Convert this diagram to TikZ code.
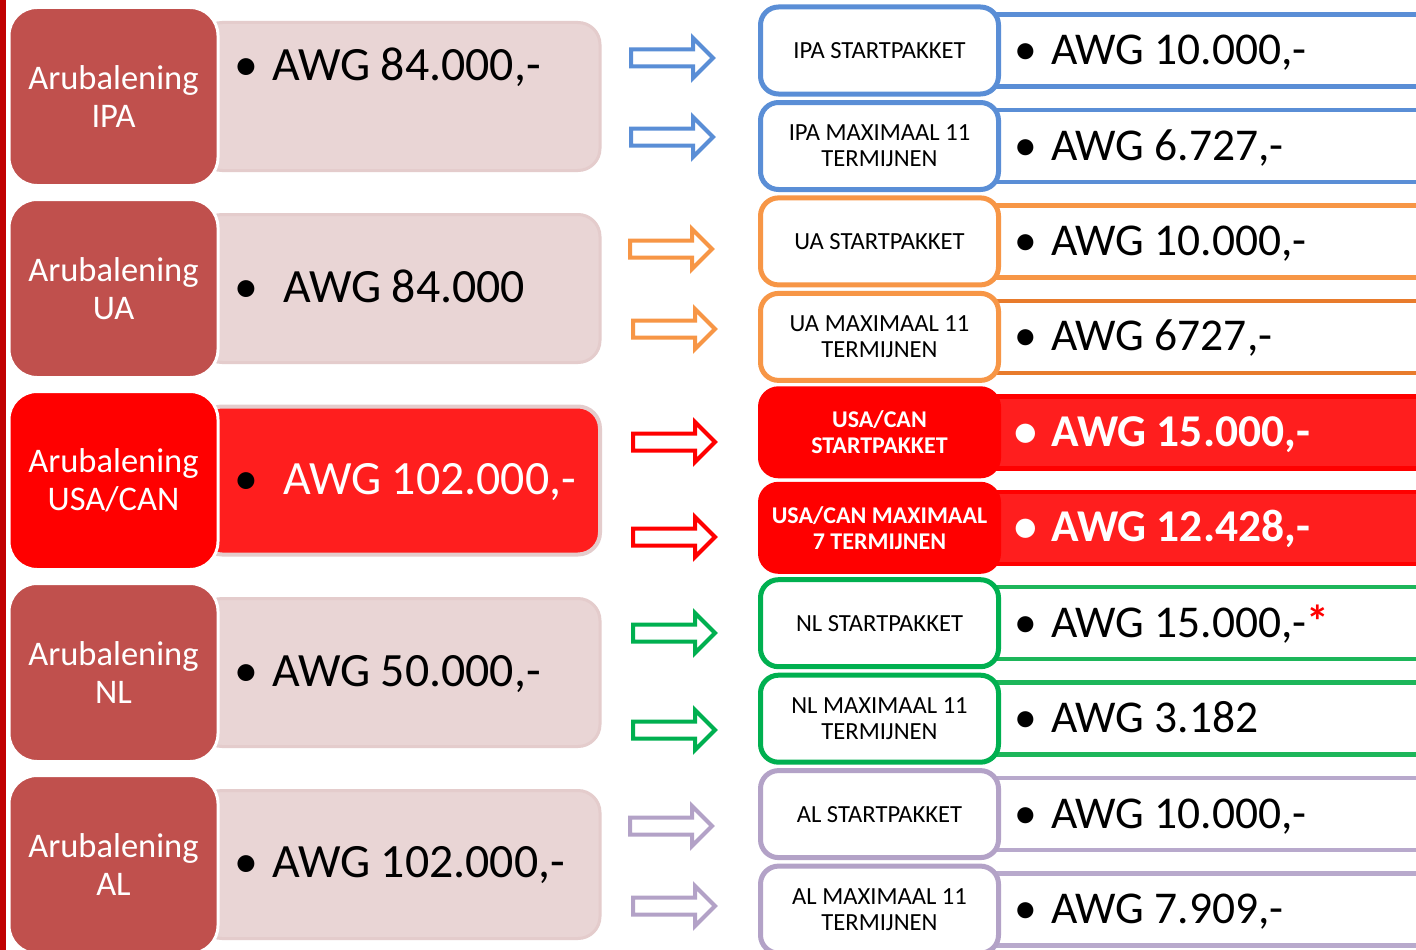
\documentclass[tikz,border=0pt]{standalone}
\usepackage{fontspec}
\setmainfont{Carlito}
\definecolor{barred}{HTML}{C00000}
\definecolor{lrose}{HTML}{C0504D}
\definecolor{mpink}{HTML}{E9D5D5}
\definecolor{mpinkb}{HTML}{E4CCCC}
\definecolor{vred}{HTML}{FF1E1E}
\definecolor{cblue}{HTML}{5A8ED6}
\definecolor{corange}{HTML}{F79646}
\definecolor{corange2}{HTML}{E87B2C}
\definecolor{cred}{HTML}{FF0000}
\definecolor{cgreen}{HTML}{00B050}
\definecolor{cgreen2}{HTML}{1DB65A}
\definecolor{cpurple}{HTML}{B3A2C7}
\definecolor{cpurple2}{HTML}{B8A9CC}
\newcommand\blockarr[3]{%
  \draw[line width=4pt, draw=#1, fill=white, line join=miter]
    (#2+2,#3-8.5) -- (#2+64,#3-8.5) -- (#2+64,#3-20) -- (#2+84,#3)
    -- (#2+64,#3+20) -- (#2+64,#3+8.5) -- (#2+2,#3+8.5) -- cycle;}
\tikzset{
  leftbox/.style={rounded corners=28pt, fill=lrose, draw=white, line width=3pt,
    minimum width=209pt, minimum height=178pt, align=center, text=white,
    inner sep=0pt, font=\fontsize{34.5}{38}\selectfont},
  midbox/.style={rounded corners=22pt, fill=mpink, draw=mpinkb, line width=3pt,
    minimum width=400pt, minimum height=148pt, inner sep=0pt},
  bigtxt/.style={font=\fontsize{47.8}{50}\selectfont, inner sep=0pt},
  lbox/.style={rounded corners=18pt, fill=white, line width=5pt,
    minimum width=238pt, minimum height=87pt, align=center, inner sep=0pt,
    font=\fontsize{24.6}{26}\selectfont},
  lboxred/.style={lbox, draw=cred, fill=cred, text=white,
    font=\fontsize{24}{26}\selectfont\bfseries},
  vbox/.style={fill=white, line width=4.5pt, minimum width=450pt,
    minimum height=72pt, inner sep=0pt},
  vtxt/.style={font=\fontsize{45.5}{48}\selectfont, inner sep=0pt},
  vtxtb/.style={vtxt, text=white, font=\fontsize{45.5}{48}\selectfont\bfseries},
}
\begin{document}
\begin{tikzpicture}[x=1pt,y=-1pt]
\clip (0,0) rectangle (1416,950);
\fill[white] (0,0) rectangle (1416,950);
% left red bar
\fill[barred] (0,0) rectangle (6,950);

% middle boxes
\node[midbox] (M1) at (400,96.5) {};
\node[midbox] (M2) at (400,288.5) {};
\node[midbox, fill=vred, draw=mpinkb, line width=4pt] (M3) at (400,480.5) {};
\node[midbox] (M4) at (400,672.5) {};
\node[midbox] (M5) at (400,864.5) {};

% left boxes
\node[leftbox] (L1) at (113.5,96.5) {Arubalening\\IPA};
\node[leftbox] (L2) at (113.5,288.5) {Arubalening\\UA};
\node[leftbox, fill=cred] (L3) at (113.5,480.5) {Arubalening\\USA/CAN};
\node[leftbox] (L4) at (113.5,672.5) {Arubalening\\NL};
\node[leftbox] (L5) at (113.5,864.5) {Arubalening\\AL};

% middle texts
\node[bigtxt, anchor=base] (B1) at (246,81) {•};
\node[bigtxt, anchor=base west] (T1) at (272,81) {AWG 84.000,-};
\node[bigtxt, anchor=base] (B2) at (246,302) {•};
\node[bigtxt, anchor=base west] (T2) at (283,302) {AWG 84.000};
\node[bigtxt, anchor=base] (B3) at (246,494) {•};
\node[bigtxt, anchor=base west, text=white] (T3) at (283,494) {AWG 102.000,-};
\node[bigtxt, anchor=base] (B4) at (246,686) {•};
\node[bigtxt, anchor=base west] (T4) at (272,686) {AWG 50.000,-};
\node[bigtxt, anchor=base] (B5) at (246,877) {•};
\node[bigtxt, anchor=base west] (T5) at (272,877) {AWG 102.000,-};

% arrows
\blockarr{cblue}{629}{58}
\blockarr{cblue}{629}{137}
\blockarr{corange}{628}{249}
\blockarr{corange}{631}{329}
\blockarr{cred}{631}{442}
\blockarr{cred}{631}{537}
\blockarr{cgreen}{631}{633}
\blockarr{cgreen}{631}{730}
\blockarr{cpurple}{628}{826}
\blockarr{cpurple}{631}{906}

% value boxes
\node[vbox, draw=cblue] (V0) at (1215,50.5) {};
\node[vbox, draw=cblue] (V1) at (1215,146.0) {};
\node[vbox, draw=corange] (V2) at (1215,241.4) {};
\node[vbox, draw=corange2] (V3) at (1215,336.9) {};
\node[vbox, draw=cred, fill=vred] (V4) at (1215,432.3) {};
\node[vbox, draw=cred, fill=vred] (V5) at (1215,527.8) {};
\node[vbox, draw=cgreen2] (V6) at (1215,623.2) {};
\node[vbox, draw=cgreen2] (V7) at (1215,718.7) {};
\node[vbox, draw=cpurple2] (V8) at (1215,814.1) {};
\node[vbox, draw=cpurple2] (V9) at (1215,909.6) {};

% label boxes
\node[lbox, draw=cblue] (P0) at (879.5,50.5) {IPA STARTPAKKET};
\node[lbox, draw=cblue] (P1) at (879.5,146.0) {IPA MAXIMAAL 11\\TERMIJNEN};
\node[lbox, draw=corange] (P2) at (879.5,241.4) {UA STARTPAKKET};
\node[lbox, draw=corange] (P3) at (879.5,336.9) {UA MAXIMAAL 11\\TERMIJNEN};
\node[lboxred] (P4) at (879.5,432.3) {USA/CAN\\STARTPAKKET};
\node[lboxred] (P5) at (879.5,527.8) {USA/CAN MAXIMAAL\\7 TERMIJNEN};
\node[lbox, draw=cgreen] (P6) at (879.5,623.2) {NL STARTPAKKET};
\node[lbox, draw=cgreen] (P7) at (879.5,718.7) {NL MAXIMAAL 11\\TERMIJNEN};
\node[lbox, draw=cpurple] (P8) at (879.5,814.1) {AL STARTPAKKET};
\node[lbox, draw=cpurple] (P9) at (879.5,909.6) {AL MAXIMAAL 11\\TERMIJNEN};

% value texts
\node[vtxt, anchor=base] (VB0) at (1026,64.5) {•};
\node[vtxt, anchor=base west] (VT0) at (1051,64.5) {AWG 10.000,-};
\node[vtxt, anchor=base] (VB1) at (1026,160) {•};
\node[vtxt, anchor=base west] (VT1) at (1051,160) {AWG 6.727,-};
\node[vtxt, anchor=base] (VB2) at (1026,255.4) {•};
\node[vtxt, anchor=base west] (VT2) at (1051,255.4) {AWG 10.000,-};
\node[vtxt, anchor=base] (VB3) at (1026,350.9) {•};
\node[vtxt, anchor=base west] (VT3) at (1051,350.9) {AWG 6727,-};
\node[vtxtb, anchor=base] (VB4) at (1026,446.3) {•};
\node[vtxtb, anchor=base west] (VT4) at (1051,446.3) {AWG 15.000,-};
\node[vtxtb, anchor=base] (VB5) at (1026,541.8) {•};
\node[vtxtb, anchor=base west] (VT5) at (1051,541.8) {AWG 12.428,-};
\node[vtxt, anchor=base] (VB6) at (1026,637.2) {•};
\node[vtxt, anchor=base west] (VT6) at (1051,637.2) {AWG 15.000,-\textcolor{cred}{\bfseries *}};
\node[vtxt, anchor=base] (VB7) at (1026,732.7) {•};
\node[vtxt, anchor=base west] (VT7) at (1051,732.7) {AWG 3.182};
\node[vtxt, anchor=base] (VB8) at (1026,828.1) {•};
\node[vtxt, anchor=base west] (VT8) at (1051,828.1) {AWG 10.000,-};
\node[vtxt, anchor=base] (VB9) at (1026,923.6) {•};
\node[vtxt, anchor=base west] (VT9) at (1051,923.6) {AWG 7.909,-};
\end{tikzpicture}
\end{document}
